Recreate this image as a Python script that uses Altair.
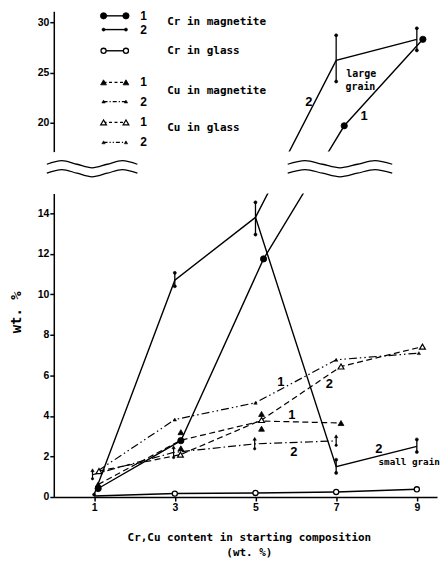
import altair as alt
import pandas as pd

# ---------------- values ----------------
x_ticks = [1, 3, 5, 7, 9]
y_ticks_lower = [0, 2, 4, 6, 8, 10, 12, 14]
y_ticks_upper = [20, 25, 30]

# Cr in magnetite, run 1 (large dots)
cr_mag1_x = [1.1, 3.15, 5.2, 7.2, 9.15]
cr_mag1_y = [0.42, 2.78, 11.75, 19.7, 28.3]

# Cr in magnetite, run 2 (small dots): common path + large-grain and small-grain branches
cr_mag2_x = [1, 3, 5]
cr_mag2_y = [0.12, 10.7, 13.8]
cr_mag2_large_x = [5, 7, 9]
cr_mag2_large_y = [13.8, 26.2, 28.3]
cr_mag2_small_x = [5, 7, 9]
cr_mag2_small_y = [13.8, 1.5, 2.5]
cr_mag2_bar_x = [3, 5, 7, 9, 7, 9]
cr_mag2_bar_lo = [10.4, 12.95, 24.1, 27.2, 1.19, 2.22]
cr_mag2_bar_hi = [11.06, 14.54, 28.7, 29.4, 1.84, 2.84]

# Cr in glass (open circles)
cr_glass_x = [1, 3, 5, 7, 9]
cr_glass_y = [0.05, 0.17, 0.2, 0.25, 0.38]

# Cu in magnetite, run 1 (filled triangles)
cu_mag1_x = [1.1, 3.15, 5.15, 7.12]
cu_mag1_y = [0.62, 2.8, 3.75, 3.65]
cu_mag1_pts_x = [1.1, 3.15, 3.15, 5.15, 5.15, 7.12]
cu_mag1_pts_y = [0.62, 3.2, 2.4, 4.1, 3.37, 3.65]

# Cu in magnetite, run 2 (small triangles on bars)
cu_mag2_x = [0.96, 2.97, 4.98, 7.0]
cu_mag2_y = [1.1, 2.2, 2.62, 2.77]
cu_mag2_lo = [0.9, 1.95, 2.38, 2.55]
cu_mag2_hi = [1.32, 2.45, 2.87, 3.0]

# Cu in glass, run 1 (open triangles)
cu_glass1_x = [1.12, 3.14, 5.15, 7.12, 9.14]
cu_glass1_y = [1.28, 2.09, 3.8, 6.44, 7.42]

# Cu in glass, run 2 (small triangles)
cu_glass2_x = [1.1, 3, 5, 7, 9.05]
cu_glass2_y = [1.3, 3.82, 4.65, 6.77, 7.1]

# annotations (text, x, wt.%, align)
notes_upper = [("large", 7.25, 24.88, "left"), ("grain", 7.23, 23.56, "left")]
nums_upper = [("2", 6.32, 22.08), ("1", 7.69, 20.66)]
notes_lower = [("small grain", 8.05, 1.73, "left")]
nums_lower = [("2", 8.06, 2.39), ("1", 5.63, 5.66), ("2", 6.83, 5.58),
              ("1", 5.9, 4.06), ("2", 5.95, 2.22)]

# ---------------- broken-axis geometry ----------------
W = 385
H_LO, H_UP, GAP = 305, 141, 42
X_DOM = [0, 9.5]
LO_DOM = [0, 14.98]
UP_DOM = [17.13, 31.09]
SPLIT = 16

MONO = "DejaVu Sans Mono"
SANS = "Liberation Sans"


def px_height(v):
    if v < SPLIT:
        return v * H_LO / LO_DOM[1]
    return H_LO + GAP + (v - UP_DOM[0]) * H_UP / (UP_DOM[1] - UP_DOM[0])


def as_lo(v):
    return px_height(v) * LO_DOM[1] / H_LO


def as_up(v):
    return UP_DOM[0] + (px_height(v) - H_LO - GAP) * (UP_DOM[1] - UP_DOM[0]) / H_UP


def pts(xs, ys):
    return pd.DataFrame({"x": xs, "order": list(range(len(xs))),
                         "lo": [as_lo(v) for v in ys], "up": [as_up(v) for v in ys]})


def bars(xs, lo, hi):
    return pd.DataFrame({"x": xs,
                         "lo": [as_lo(v) for v in lo], "up": [as_up(v) for v in lo],
                         "lo2": [as_lo(v) for v in hi], "up2": [as_up(v) for v in hi]})


def texts(items):
    return pd.DataFrame({"t": [i[0] for i in items], "x": [i[1] for i in items],
                         "lo": [as_lo(i[2]) for i in items], "up": [as_up(i[2]) for i in items]})


# wavy break marks (decoration), pixel offsets relative to upper plot
def wave_frame():
    rows = []
    dy = [0, -3.6, 0, 3.6, 0, -3.6, 0]
    starts = [(-7, 91), (235, 105)]
    k = 0
    for sx, length in starts:
        for base in (153.7, 162.7):
            for i in range(7):
                rx = sx + length * i / 6
                ry = base + dy[i]
                rows.append({"wave": k, "order": i,
                             "x": X_DOM[0] + rx / W * (X_DOM[1] - X_DOM[0]),
                             "up": UP_DOM[1] - ry / H_UP * (UP_DOM[1] - UP_DOM[0])})
            k += 1
    return pd.DataFrame(rows)


one = pd.DataFrame({"k": [0]})

axis_style = dict(domainColor="black", domainWidth=1.5, tickColor="black", tickWidth=1.5,
                  tickSize=4, labelColor="black", labelFont=SANS, labelFontSize=10.5,
                  labelFontWeight="bold", grid=False)

DASH = [6, 3.5]
DASHDOT = [8, 3, 1.5, 3]
DASHDOTDOT = [8, 3, 1.5, 3, 1.5, 3]


def panel(kind):
    f = kind
    xs = alt.Scale(domain=X_DOM, nice=False, zero=False)
    if kind == "lo":
        ys = alt.Scale(domain=LO_DOM, nice=False, zero=False)
        xa = alt.Axis(values=x_ticks, labelPadding=2,
                      title=["Cr,Cu content in starting composition", "(wt. %)"],
                      titleFont=MONO, titleFontSize=11, titleFontWeight="bold", titleColor="black",
                      titleLineHeight=15, titleX=196, titleY=44, titleAlign="center",
                      titleBaseline="alphabetic", **axis_style)
        ya = alt.Axis(values=y_ticks_lower, labelPadding=1, title="wt. %",
                      titleFont=MONO, titleFontSize=14, titleFontWeight="bold", titleColor="black",
                      titleX=-37, titleY=119, titleAngle=270, titleAlign="center",
                      titleBaseline="middle", **axis_style)
        H = H_LO
    else:
        ys = alt.Scale(domain=UP_DOM, nice=False, zero=False)
        xa = None
        ya = alt.Axis(values=y_ticks_upper, labelPadding=1, title=None, **axis_style)
        H = H_UP

    def X():
        return alt.X("x:Q", scale=xs, axis=xa)

    def Y():
        return alt.Y(f + ":Q", scale=ys, axis=ya)

    layers = []

    def add_line(df, sw=1.4, dash=None):
        props = dict(color="black", strokeWidth=sw, clip=True)
        if dash:
            props["strokeDash"] = dash
        layers.append(alt.Chart(df).mark_line(**props).encode(x=X(), y=Y(), order="order:Q"))

    def add_pts(df, shape, size, fill="black", sw=0.8):
        layers.append(alt.Chart(df).mark_point(shape=shape, size=size, filled=True, fill=fill,
                                               stroke="black", strokeWidth=sw, opacity=1,
                                               clip=True).encode(x=X(), y=Y()))

    def add_bars(df, sw=1.3):
        layers.append(alt.Chart(df).mark_rule(color="black", strokeWidth=sw, clip=True)
                      .encode(x=X(), y=Y(), y2=alt.Y2(f + "2:Q")))

    def add_bar_ends(df, which, shape, size):
        d = df.copy()
        d[f] = d[f + ("2" if which == "hi" else "")]
        add_pts(d, shape, size, sw=0.5)

    # lines
    add_line(pts(cr_glass_x, cr_glass_y), sw=1.6)
    add_line(pts(cu_glass2_x, cu_glass2_y), sw=1.2, dash=DASHDOTDOT)
    add_line(pts(cu_mag2_x, cu_mag2_y), sw=1.2, dash=DASHDOT)
    add_line(pts(cu_glass1_x, cu_glass1_y), sw=1.2, dash=DASH)
    add_line(pts(cu_mag1_x, cu_mag1_y), sw=1.2, dash=DASH)
    add_line(pts(cr_mag2_x, cr_mag2_y))
    add_line(pts(cr_mag2_large_x, cr_mag2_large_y))
    add_line(pts(cr_mag2_small_x, cr_mag2_small_y))
    add_line(pts(cr_mag1_x, cr_mag1_y))

    # bars
    b_cr = bars(cr_mag2_bar_x, cr_mag2_bar_lo, cr_mag2_bar_hi)
    add_bars(b_cr)
    add_bar_ends(b_cr, "lo", "circle", 10)
    add_bar_ends(b_cr, "hi", "circle", 10)
    b_cu = bars(cu_mag2_x, cu_mag2_lo, cu_mag2_hi)
    add_bars(b_cu, sw=1.2)
    add_bar_ends(b_cu, "lo", "circle", 6)
    add_bar_ends(b_cu, "hi", "triangle-up", 12)

    # markers
    add_pts(pts(cr_mag2_x[:1], cr_mag2_y[:1]), "circle", 10, sw=0.5)
    add_pts(pts(cr_glass_x[1:], cr_glass_y[1:]), "circle", 26, fill="white", sw=1.3)
    add_pts(pts(cu_glass2_x[1:], cu_glass2_y[1:]), "triangle-up", 12, sw=0.5)
    add_pts(pts(cu_glass1_x, cu_glass1_y), "triangle-up", 34, fill="white", sw=1.2)
    add_pts(pts(cu_mag1_pts_x, cu_mag1_pts_y), "triangle-up", 34)
    add_pts(pts(cr_mag1_x, cr_mag1_y), "circle", 40)

    # annotations
    notes = notes_lower if kind == "lo" else notes_upper
    nums = nums_lower if kind == "lo" else nums_upper
    for t, x, v, al in notes:
        layers.append(alt.Chart(texts([(t, x, v)])).mark_text(
            align=al, baseline="middle", font=MONO, fontSize=9.3 if kind == "lo" else 10,
            fontWeight="bold", color="black")
            .encode(x=X(), y=Y(), text="t:N"))
    for t, x, v in nums:
        layers.append(alt.Chart(texts([(t, x, v)])).mark_text(
            align="center", baseline="middle", font=SANS, fontSize=13, fontWeight="bold", color="black")
            .encode(x=X(), y=Y(), text="t:N"))

    if kind == "up":
        # break marks
        layers.append(alt.Chart(wave_frame()).mark_line(
            color="black", strokeWidth=1.3, interpolate="cardinal", clip=False)
            .encode(x=X(), y=Y(), detail="wave:N", order="order:Q"))
        # key
        LX1, LX2, NUMX, TXTX = 50, 72.5, 90.3, 114
        key_rows = [
            ("1", 4.6, None, "circle", 40, "black", 0.8),
            ("2", 18.4, None, "circle", 10, "black", 0.5),
            ("", 39.7, None, "circle", 26, "white", 1.3),
            ("1", 71.4, [3, 2.5], "triangle-up", 34, "black", 0.8),
            ("2", 90.7, [4, 2, 1.2, 2], "triangle-up", 12, "black", 0.5),
            ("1", 111.7, [3, 2.5], "triangle-up", 34, "white", 1.2),
            ("2", 131.7, [4, 2, 1.2, 2, 1.2, 2], "triangle-up", 12, "black", 0.5),
        ]
        for num, y, dash, shape, size, fill, sw in key_rows:
            rp = dict(color="black", strokeWidth=1.4)
            if dash:
                rp["strokeDash"] = dash
                rp["strokeWidth"] = 1.2
            layers.append(alt.Chart(one).mark_rule(**rp).encode(
                x=alt.value(LX1), x2=alt.value(LX2), y=alt.value(y)))
            for xx in (LX1, LX2):
                layers.append(alt.Chart(one).mark_point(
                    shape=shape, size=size, filled=True, fill=fill, stroke="black",
                    strokeWidth=sw, opacity=1).encode(x=alt.value(xx), y=alt.value(y)))
            if num:
                layers.append(alt.Chart(one).mark_text(
                    text=num, font=SANS, fontSize=12, fontWeight="bold", color="black",
                    align="center", baseline="middle").encode(x=alt.value(NUMX), y=alt.value(y)))
        key_labels = [("Cr in magnetite", 10.7), ("Cr in glass", 39.7),
                      ("Cu in magnetite", 80), ("Cu in glass", 117.4)]
        for lab, y in key_labels:
            layers.append(alt.Chart(one).mark_text(
                text=lab, font=MONO, fontSize=11, fontWeight="bold", color="black",
                align="left", baseline="middle").encode(x=alt.value(TXTX), y=alt.value(y)))

    return alt.layer(*layers).properties(width=W, height=H)


upper = panel("up")
lower = panel("lo")

chart = alt.vconcat(upper, lower, spacing=GAP, bounds="flush").properties(
    padding={"left": 2, "top": 0, "right": 0, "bottom": 0}
).configure_view(stroke=None).configure_axis(grid=False)

chart.save("out.html", embed_options={"renderer": "svg", "actions": False})
